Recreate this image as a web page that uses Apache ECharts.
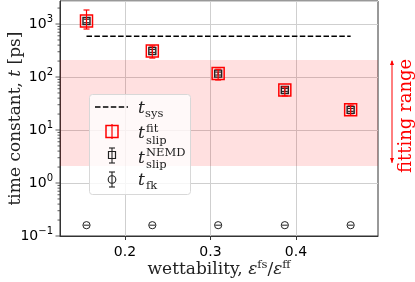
<!DOCTYPE html>
<html>
<head>
<meta charset="utf-8">
<script src="https://cdn.jsdelivr.net/npm/echarts@6/dist/echarts.min.js"></script>
<style>html,body{margin:0;padding:0;background:#fff}#c{width:415px;height:282px}</style>
</head>
<body>
<div id="c"></div>
<script>
// ---- data ----
const xs = [0.155, 0.232, 0.309, 0.387, 0.464];
const tFit = [1140, 310, 116, 57, 24];
const tFitLow = [805, 228, 88, 44, 19];
const tFitHigh = [1840, 385, 140, 65, 29.5];
const tNemd = [1140, 310, 116, 57, 24];
const tNemdLow = [1060, 292, 109, 53.5, 22.5];
const tNemdHigh = [1230, 330, 124, 61, 25.5];
const tFk = [0.16, 0.16, 0.16, 0.16, 0.16];
const tSys = [590, 590, 590, 590, 590];
const fitRange = [2.1, 210];
const xTicks = [0.2, 0.3, 0.4];
const yMajor = [0.1, 1, 10, 100, 1000];
const yMinor = [0.2,0.3,0.4,0.5,0.6,0.7,0.8,0.9, 2,3,4,5,6,7,8,9, 20,30,40,50,60,70,80,90, 200,300,400,500,600,700,800,900, 2000];
const xRange = [0.124, 0.496];
const yRange = [0.1, 2720];

const RED = '#ff0000';
const SERIF = 'DejaVu Serif';
const SANS = 'DejaVu Sans';

const chart = echarts.init(document.getElementById('c'), null, {renderer: 'canvas'});

function errRender(color, half, lw, capHalf) {
  return function (params, api) {
    const x = api.value(0), v = api.value(1), lo = api.value(2), hi = api.value(3);
    const c = api.coord([x, v]);
    const cl = api.coord([x, lo]);
    const ch = api.coord([x, hi]);
    const st = {stroke: color, lineWidth: lw, fill: null};
    return {type: 'group', children: [
      {type: 'line', shape: {x1: c[0], y1: cl[1], x2: c[0], y2: ch[1]}, style: st},
      {type: 'line', shape: {x1: c[0]-capHalf, y1: cl[1], x2: c[0]+capHalf, y2: cl[1]}, style: st},
      {type: 'line', shape: {x1: c[0]-capHalf, y1: ch[1], x2: c[0]+capHalf, y2: ch[1]}, style: st},
      {type: 'rect', shape: {x: c[0]-half, y: c[1]-half, width: 2*half, height: 2*half}, style: {stroke: color, lineWidth: lw+0.3, fill: null}}
    ]};
  };
}

function yLabel(v) {
  const e = Math.log10(v);
  const r = Math.round(e);
  if (Math.abs(e - r) > 1e-6) return '';
  const exp = r < 0 ? '\u2212' + (-r) : '' + r;
  return '{b|10}{s|' + exp + '}';
}

const option = {
  animation: false,
  grid: {left: 60, right: 37, top: 1, bottom: 46, outerBoundsMode: 'none', containLabel: false,
    show: true, borderColor: '#333', borderWidth: 1, backgroundColor: 'transparent'},
  xAxis: {
    type: 'value', min: xRange[0], max: xRange[1], splitNumber: 3,
    axisLine: {show: true, lineStyle: {color: '#333', width: 1}},
    axisTick: {show: true, customValues: xTicks, length: 4, lineStyle: {color: '#333'}},
    axisLabel: {customValues: xTicks, margin: 9, fontFamily: SANS, fontSize: 14, color: '#000',
      formatter: v => v.toFixed(1)},
    splitLine: {show: true, lineStyle: {color: '#cfcfcf', width: 1}},
    name: 'wettability, {i|ε}{sup|fs}/{i|ε}{sup|ff}',
    nameLocation: 'middle', nameGap: 23, nameMoveOverlap: false,
    nameTextStyle: {fontFamily: SERIF, fontSize: 17, color: '#222', lineHeight: 22,
      rich: {
        i: {fontFamily: SERIF, fontStyle: 'italic', fontSize: 17, color: '#222', lineHeight: 22},
        sup: {fontFamily: SERIF, fontSize: 11.5, color: '#222', verticalAlign: 'top', lineHeight: 13}
      }}
  },
  yAxis: {
    type: 'log', logBase: 10, min: yRange[0], max: yRange[1],
    axisLine: {show: true, lineStyle: {color: '#333', width: 1}},
    axisTick: {show: false},
    axisLabel: {margin: 7, formatter: yLabel,
      rich: {
        b: {fontFamily: SANS, fontSize: 14, color: '#000', lineHeight: 20},
        s: {fontFamily: SANS, fontSize: 10, color: '#000', verticalAlign: 'top', lineHeight: 7}
      }},
    splitLine: {show: true, lineStyle: {color: '#cfcfcf', width: 1}},
    minorTick: {show: false},
    name: '{n|time constant, }{i|t}{n| [ps]}',
    nameLocation: 'middle', nameGap: 36, nameMoveOverlap: false,
    nameTextStyle: {fontFamily: SERIF, fontSize: 17, color: '#222', rich: {
      n: {fontFamily: SERIF, fontSize: 17, color: '#222'},
      i: {fontFamily: SERIF, fontStyle: 'italic', fontSize: 17, color: '#222'}
    }}
  },
  series: [
    {
      name: 'sys', type: 'line', data: xs.map((x, i) => [x, tSys[i]]),
      symbol: 'none', lineStyle: {color: '#000', width: 1.5, type: [5.5, 2.4]}, z: 3,
      markArea: {silent: true, itemStyle: {color: 'rgba(255,0,0,0.12)'},
        data: [[{yAxis: fitRange[0]}, {yAxis: fitRange[1]}]]}
    },
    {
      name: 'nemd', type: 'custom', z: 4,
      data: xs.map((x, i) => [x, tNemd[i], tNemdLow[i], tNemdHigh[i]]),
      renderItem: errRender('#222', 3.5, 1.1, 3)
    },
    {
      name: 'fit', type: 'custom', z: 5,
      data: xs.map((x, i) => [x, tFit[i], tFitLow[i], tFitHigh[i]]),
      renderItem: errRender(RED, 6, 1.2, 3)
    },
    {
      name: 'fk', type: 'custom', z: 5,
      data: xs.map((x, i) => [x, tFk[i]]),
      renderItem: function (params, api) {
        const c = api.coord([api.value(0), api.value(1)]);
        return {type: 'group', children: [
          {type: 'circle', shape: {cx: c[0], cy: c[1], r: 3.6}, style: {stroke: '#222', lineWidth: 1, fill: null}},
          {type: 'line', shape: {x1: c[0]-3, y1: c[1], x2: c[0]+3, y2: c[1]}, style: {stroke: '#222', lineWidth: 1}}
        ]};
      }
    },
    {
      name: 'yticks', type: 'custom', z: 6, silent: true,
      data: yMajor.map(v => [xRange[0], v, 4.5]).concat(yMinor.map(v => [xRange[0], v, 2.5])),
      renderItem: function (params, api) {
        const c = api.coord([api.value(0), api.value(1)]);
        const len = api.value(2);
        const x0 = params.coordSys.x;
        return {type: 'line', shape: {x1: x0 - len, y1: c[1], x2: x0, y2: c[1]}, style: {stroke: '#333', lineWidth: 0.8}};
      }
    }
  ]
};
chart.setOption(option);

function buildGraphics() {
  const yTop = chart.convertToPixel({yAxisIndex: 0}, fitRange[1]);
  const yBot = chart.convertToPixel({yAxisIndex: 0}, fitRange[0]);
  const ax = 392;
  const g = [];
  g.push({type: 'line', shape: {x1: ax, y1: yTop + 1, x2: ax, y2: yBot - 3}, style: {stroke: RED, lineWidth: 1}});
  g.push({type: 'polygon', shape: {points: [[ax, yTop], [ax - 2, yTop + 5], [ax + 2, yTop + 5]]}, style: {fill: RED}});
  g.push({type: 'polygon', shape: {points: [[ax, yBot - 3], [ax - 2, yBot - 8], [ax + 2, yBot - 8]]}, style: {fill: RED}});
  g.push({type: 'text', x: 406, y: (yTop + yBot) / 2 + 3, rotation: Math.PI / 2,
    style: {text: 'fitting range', fill: RED, font: '18px "DejaVu Serif"', align: 'center', verticalAlign: 'middle'}});
  g.push({type: 'rect', z: 100, shape: {x: 89.5, y: 94.5, width: 101, height: 100, r: 3},
    style: {fill: 'rgba(255,255,255,0.8)', stroke: '#d8d8d8', lineWidth: 1}});
  const lx = 112;
  g.push({type: 'line', z: 101, shape: {x1: 95, y1: 107, x2: 128, y2: 107}, style: {stroke: '#000', lineWidth: 1.5, lineDash: [5.5, 2.4]}});
  g.push({type: 'rect', z: 101, shape: {x: lx - 6, y: 125.5, width: 12, height: 12}, style: {stroke: RED, lineWidth: 1.5, fill: null}});
  g.push({type: 'line', z: 101, shape: {x1: lx, y1: 124, x2: lx, y2: 139}, style: {stroke: RED, lineWidth: 1.2}});
  g.push({type: 'rect', z: 101, shape: {x: lx - 3.5, y: 151.5, width: 7, height: 7}, style: {stroke: '#222', lineWidth: 1.2, fill: null}});
  g.push({type: 'line', z: 101, shape: {x1: lx, y1: 148, x2: lx, y2: 163}, style: {stroke: '#222', lineWidth: 1.1}});
  g.push({type: 'line', z: 101, shape: {x1: lx - 3, y1: 148, x2: lx + 3, y2: 148}, style: {stroke: '#222', lineWidth: 1.1}});
  g.push({type: 'line', z: 101, shape: {x1: lx - 3, y1: 163, x2: lx + 3, y2: 163}, style: {stroke: '#222', lineWidth: 1.1}});
  g.push({type: 'circle', z: 101, shape: {cx: lx, cy: 179.5, r: 3.8}, style: {stroke: '#222', lineWidth: 1.1, fill: null}});
  g.push({type: 'line', z: 101, shape: {x1: lx, y1: 172, x2: lx, y2: 187}, style: {stroke: '#222', lineWidth: 1.1}});
  g.push({type: 'line', z: 101, shape: {x1: lx - 3, y1: 172, x2: lx + 3, y2: 172}, style: {stroke: '#222', lineWidth: 1.1}});
  g.push({type: 'line', z: 101, shape: {x1: lx - 3, y1: 187, x2: lx + 3, y2: 187}, style: {stroke: '#222', lineWidth: 1.1}});
  const T = (txt, x, y, size, italic) => ({type: 'text', z: 102, x: x, y: y,
    style: {text: txt, fill: '#222', font: (italic ? 'italic ' : '') + size + 'px "DejaVu Serif"', align: 'left', verticalAlign: 'middle'}});
  g.push(T('t', 138, 109, 17, true));
  g.push(T('sys', 145, 114, 11.5, false));
  g.push(T('t', 138, 134, 17, true));
  g.push(T('fit', 146, 129, 11.5, false));
  g.push(T('slip', 146, 141, 11.5, false));
  g.push(T('t', 138, 159, 17, true));
  g.push(T('NEMD', 146, 153, 11.5, false));
  g.push(T('slip', 146, 165, 11.5, false));
  g.push(T('t', 138, 181, 17, true));
  g.push(T('fk', 146, 186, 11.5, false));
  chart.setOption({graphic: g});
}
buildGraphics();
</script>
</body>
</html>
